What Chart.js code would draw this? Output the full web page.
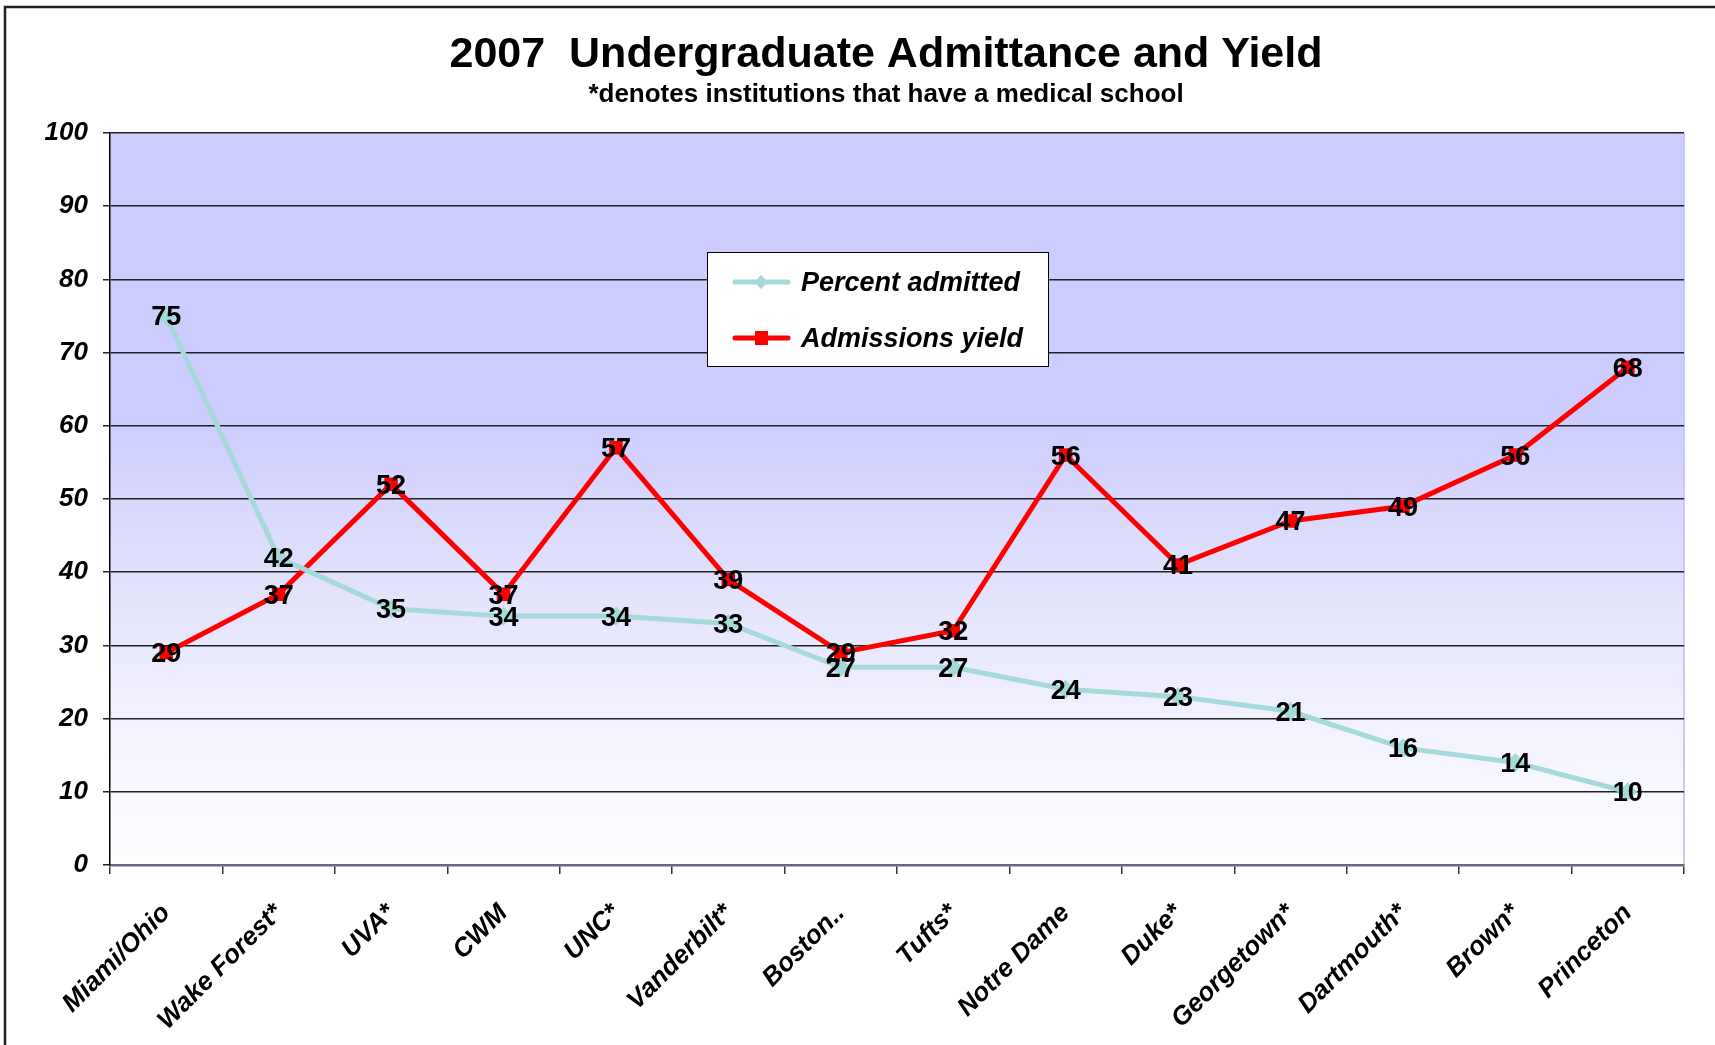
<!DOCTYPE html>
<html>
<head>
<meta charset="utf-8">
<script src="https://cdn.jsdelivr.net/npm/chart.js@4"></script>
<style>
  html, body { margin: 0; padding: 0; background: #fff; }
  #wrap { width: 1715px; height: 1045px; position: relative; }
</style>
</head>
<body>
<div id="wrap"><canvas id="c" width="1715" height="1045"></canvas></div>
<script>
const titleText = '2007  Undergraduate Admittance and Yield';
const subtitleText = '*denotes institutions that have a medical school';
const categories = ['Miami/Ohio', 'Wake Forest*', 'UVA*', 'CWM', 'UNC*', 'Vanderbilt*', 'Boston..', 'Tufts*', 'Notre Dame', 'Duke*', 'Georgetown*', 'Dartmouth*', 'Brown*', 'Princeton'];
const percentAdmitted = [75, 42, 35, 34, 34, 33, 27, 27, 24, 23, 21, 16, 14, 10];
const admissionsYield = [29, 37, 52, 37, 57, 39, 29, 32, 56, 41, 47, 49, 56, 68];
const seriesNames = ['Percent admitted', 'Admissions yield'];
const yTicks = [0, 10, 20, 30, 40, 50, 60, 70, 80, 90, 100];

const FONT = '"Liberation Sans", Arial, sans-serif';
const TEAL = '#A6D9D9';
const RED = '#FF0000';

const bgPlugin = {
  id: 'bg',
  beforeDraw(chart) {
    const { ctx, chartArea: a } = chart;
    ctx.save();
    ctx.fillStyle = '#fff';
    ctx.fillRect(0, 0, chart.width, chart.height);
    const g = ctx.createLinearGradient(0, a.top, 0, a.bottom);
    g.addColorStop(0, '#CCCCFF');
    g.addColorStop(0.38, '#CCCCFF');
    g.addColorStop(0.62, '#E2E2FC');
    g.addColorStop(0.82, '#F3F3FF');
    g.addColorStop(1, '#FDFDFF');
    ctx.fillStyle = g;
    ctx.fillRect(a.left, a.top, a.right - a.left, a.bottom - a.top);
    ctx.strokeStyle = '#C8C8FA';
    ctx.lineWidth = 2;
    ctx.beginPath();
    ctx.moveTo(a.right, a.top);
    ctx.lineTo(a.right, a.bottom);
    ctx.stroke();
    ctx.restore();
  },
  afterDraw(chart) {
    const { ctx } = chart;
    ctx.save();
    ctx.strokeStyle = '#222';
    ctx.lineWidth = 2.5;
    ctx.beginPath();
    ctx.moveTo(5, chart.height + 5);
    ctx.lineTo(5, 7);
    ctx.lineTo(chart.width + 5, 7);
    ctx.stroke();
    ctx.fillStyle = '#000';
    ctx.textAlign = 'center';
    ctx.textBaseline = 'middle';
    ctx.font = 'bold 43px ' + FONT;
    ctx.fillText(titleText, 886, 55);
    ctx.font = 'bold 26px ' + FONT;
    ctx.fillText(subtitleText, 886, 95);
    const lx = 707, ly = 252, lw = 341, lh = 114;
    ctx.fillStyle = '#fff';
    ctx.fillRect(lx, ly, lw, lh);
    ctx.strokeStyle = '#000';
    ctx.lineWidth = 1;
    ctx.strokeRect(lx + 0.5, ly + 0.5, lw, lh);
    const rows = [282, 338];
    chart.data.datasets.forEach((ds, i) => {
      const y = rows[i];
      ctx.strokeStyle = ds.borderColor;
      ctx.lineWidth = 5;
      ctx.lineCap = 'round';
      ctx.beginPath();
      ctx.moveTo(735, y);
      ctx.lineTo(788, y);
      ctx.stroke();
      ctx.fillStyle = ds.borderColor;
      if (i === 0) {
        ctx.beginPath();
        ctx.moveTo(761, y - 7);
        ctx.lineTo(768, y);
        ctx.lineTo(761, y + 7);
        ctx.lineTo(754, y);
        ctx.closePath();
        ctx.fill();
      } else {
        ctx.fillRect(755, y - 7, 13, 14);
      }
      ctx.fillStyle = '#000';
      ctx.textAlign = 'left';
      ctx.textBaseline = 'middle';
      ctx.font = 'italic bold 27px ' + FONT;
      ctx.fillText(ds.label, 801, y + 2);
    });
    ctx.restore();
  }
};

const labelPlugin = {
  id: 'pointLabels',
  afterDatasetsDraw(chart) {
    const { ctx } = chart;
    ctx.save();
    ctx.fillStyle = '#000';
    ctx.textAlign = 'center';
    ctx.textBaseline = 'middle';
    ctx.font = 'bold 27px ' + FONT;
    chart.data.datasets.forEach((ds, di) => {
      const meta = chart.getDatasetMeta(di);
      meta.data.forEach((pt, i) => {
        ctx.fillText(String(ds.data[i]), pt.x, pt.y + 2);
      });
    });
    ctx.restore();
  }
};

new Chart(document.getElementById('c'), {
  type: 'line',
  data: {
    labels: categories,
    datasets: [
      {
        label: seriesNames[0],
        data: percentAdmitted,
        borderColor: TEAL,
        backgroundColor: TEAL,
        borderWidth: 5,
        pointStyle: 'rectRot',
        pointRadius: 6,
        tension: 0
      },
      {
        label: seriesNames[1],
        data: admissionsYield,
        borderColor: RED,
        backgroundColor: RED,
        borderWidth: 5,
        pointStyle: 'rect',
        pointRadius: 6,
        tension: 0
      }
    ]
  },
  options: {
    responsive: false,
    animation: false,
    layout: { padding: { top: 133, right: 31, left: 0, bottom: 0 } },
    plugins: {
      legend: { display: false },
      title: { display: false },
      tooltip: { enabled: false }
    },
    scales: {
      x: {
        offset: true,
        grid: {
          offset: true,
          drawOnChartArea: false,
          drawTicks: true,
          tickLength: 9,
          color: '#333',
          lineWidth: 1.5
        },
        border: { color: '#666688', width: 2.5 },
        ticks: {
          minRotation: 45,
          maxRotation: 45,
          autoSkip: false,
          padding: 24,
          color: '#000',
          font: { family: FONT, size: 26, weight: 'bold', style: 'italic' }
        },
        afterFit(s) { s.height = 180; }
      },
      y: {
        min: 0,
        max: 100,
        afterBuildTicks(s) { s.ticks = yTicks.map(v => ({ value: v })); },
        grid: {
          color: '#222',
          lineWidth: 1.5,
          tickLength: 7
        },
        border: { color: '#000', width: 1.5 },
        ticks: {
          padding: 15,
          color: '#000',
          font: { family: FONT, size: 26, weight: 'bold', style: 'italic' }
        },
        afterFit(s) { s.width = 110; }
      }
    }
  },
  plugins: [bgPlugin, labelPlugin]
});
</script>
</body>
</html>
